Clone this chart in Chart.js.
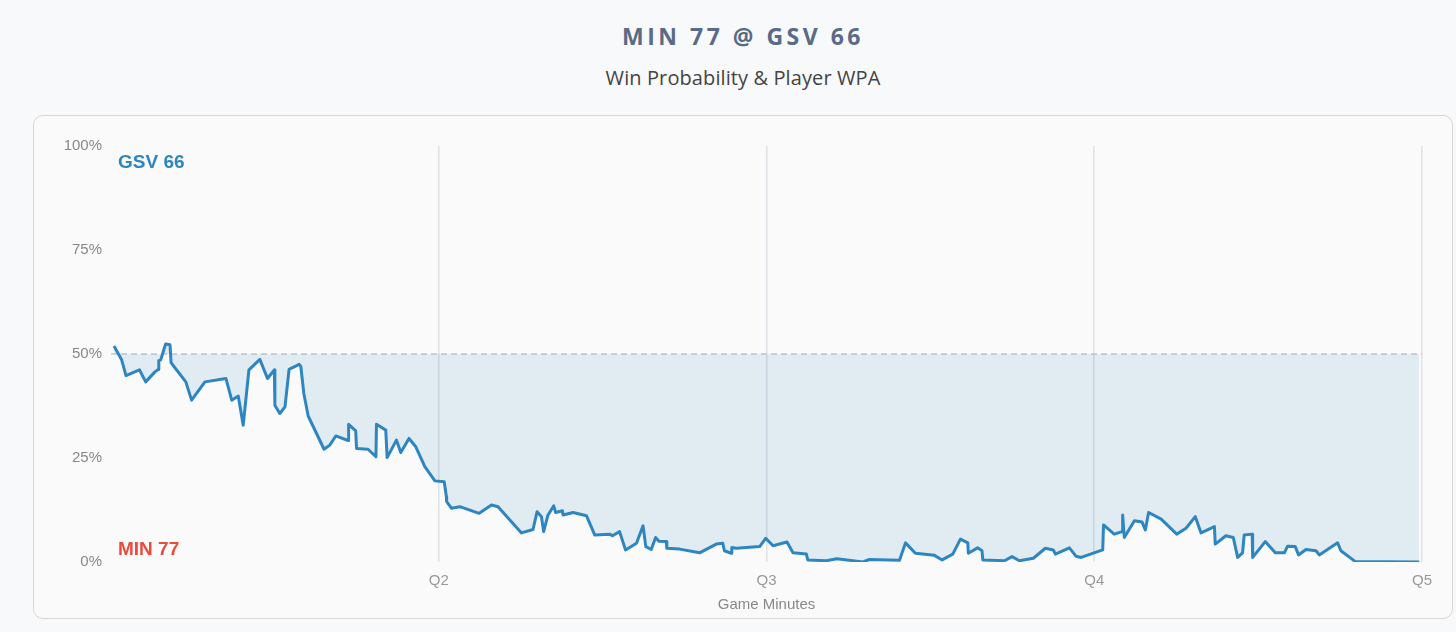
<!DOCTYPE html>
<html>
<head>
<meta charset="utf-8">
<script src="https://cdn.jsdelivr.net/npm/chart.js@4"></script>
<style>
  html, body { margin: 0; padding: 0; background: #f8f9fa; }
  body { width: 1456px; height: 632px; position: relative; overflow: hidden; }
  #title { position: absolute; left: 0; width: 1486px; top: 19px; text-align: center;
    font-family: "Open Sans", sans-serif; font-weight: 700; font-size: 23px; letter-spacing: 3.5px; color: #596b86; line-height: 34px; }
  #subtitle { position: absolute; left: 0; width: 1486px; top: 64px; text-align: center;
    font-family: "Open Sans", sans-serif; font-size: 20px; letter-spacing: 0.1px; color: #444; line-height: 28px; }
  #card { position: absolute; left: 33px; top: 115px; width: 1420px; height: 504px; box-sizing: border-box;
    border: 1px solid #d6d6d6; border-radius: 10px; background: #fafafa; overflow: hidden; }
  #card canvas { display: block; }
</style>
</head>
<body>
<div id="title">MIN 77 @ GSV 66</div>
<div id="subtitle">Win Probability &amp; Player WPA</div>
<div id="card"><canvas id="c" width="1418" height="502"></canvas></div>
<script>
// Game minute of each play
const minutes = [
  0.11, 0.39, 0.55, 1.04, 1.27, 1.61, 1.73, 1.75, 1.82, 2.00, 2.16, 2.20, 2.74, 2.95, 3.44, 4.21,
  4.42, 4.66, 4.84, 5.05, 5.45, 5.73, 5.98, 6.00, 6.18, 6.37, 6.52, 6.89, 6.95, 7.06, 7.22, 7.80,
  8.01, 8.23, 8.68, 8.70, 8.96, 8.99, 9.41, 9.70, 9.72, 10.06, 10.11, 10.45, 10.61, 10.91, 11.16,
  11.49, 11.86, 12.20, 12.28, 12.29, 12.47, 12.77, 13.48, 13.93, 14.17, 15.03, 15.45, 15.60, 15.76,
  15.84, 16.00, 16.21, 16.28, 16.53, 16.55, 16.92, 17.41, 17.71, 18.26, 18.36, 18.62, 18.84, 19.24,
  19.48, 19.58, 19.78, 19.94, 20.06, 20.33, 20.35, 20.82, 21.55, 22.16, 22.40, 22.46, 22.71, 22.73,
  22.89, 23.75, 23.97, 24.24, 24.75, 24.97, 25.46, 25.51, 26.19, 26.58, 27.53, 27.77, 28.87, 29.09,
  29.45, 30.15, 30.43, 30.82, 31.10, 31.37, 31.39, 31.73, 31.89, 31.92, 32.71, 32.99, 33.26, 33.77,
  34.21, 34.50, 34.58, 35.09, 35.33, 35.52, 36.31, 36.34, 36.73, 37.02, 37.04, 37.10, 37.47, 37.75,
  37.87, 37.99, 38.45, 39.02, 39.36, 39.70, 39.91, 40.40, 40.43, 40.82, 41.09, 41.25, 41.43, 41.49,
  41.78, 41.80, 42.26, 42.63, 42.96, 43.08, 43.36, 43.48, 43.75, 44.12, 44.24, 44.91, 45.03, 45.56,
  47.90
];
// GSV win probability (%)
const winProb = [
  51.9, 48.6, 44.8, 46.2, 43.3, 45.7, 46.3, 48.4, 48.6, 52.4, 52.2, 47.9, 43.3, 38.9, 43.3, 44.1,
  38.9, 39.9, 32.9, 46.2, 48.7, 44.1, 46.2, 37.7, 35.7, 37.3, 46.3, 47.5, 47.0, 40.5, 35.1, 27.1,
  28.1, 30.3, 29.2, 33.1, 31.5, 27.3, 27.1, 25.3, 33.1, 31.7, 25.1, 29.3, 26.3, 29.7, 27.7,
  22.9, 19.5, 19.3, 15.7, 14.5, 12.9, 13.3, 11.7, 13.7, 13.3, 7.0, 7.8, 12.1, 10.9,
  7.3, 11.3, 13.5, 11.9, 12.3, 11.3, 11.9, 11.1, 6.5, 6.7, 6.3, 7.3, 2.9, 4.5,
  8.7, 3.7, 3.0, 5.9, 5.0, 4.9, 3.3, 3.1, 2.2, 4.3, 4.5, 2.7, 2.1, 3.5,
  3.3, 3.7, 5.7, 3.9, 4.8, 2.2, 1.9, 0.5, 0.3, 0.8, 0.0, 0.6, 0.4, 4.6,
  2.1, 1.6, 0.5, 1.9, 5.5, 4.6, 2.1, 3.4, 2.7, 0.5, 0.3, 1.3, 0.3, 0.9,
  3.3, 2.9, 1.9, 3.4, 1.4, 1.1, 2.9, 8.9, 6.7, 7.3, 11.3, 5.9, 9.9, 9.6,
  7.7, 11.9, 10.3, 6.7, 8.1, 10.9, 7.0, 8.5, 4.3, 6.3, 5.9, 1.1, 2.2, 6.5,
  6.7, 1.1, 4.9, 2.2, 2.2, 3.8, 3.7, 1.7, 3.0, 2.7, 1.7, 4.6, 2.7, 0.1,
  0.0
];
const quarterTicks = [12, 24, 36, 48];
const quarterLabels = ['Q2', 'Q3', 'Q4', 'Q5'];
const yTicks = [0, 25, 50, 75, 100];
const evenLine = 50;
const homeLabel = 'GSV 66';
const awayLabel = 'MIN 77';
const homeLabelValue = 96;
const awayLabelValue = 3;

const points = minutes.map((m, i) => ({ x: m, y: winProb[i] }));
const axisFont = '"Liberation Sans", Arial, sans-serif';

const teamLabels = {
  id: 'teamLabels',
  afterDatasetsDraw(chart) {
    const { ctx, chartArea, scales } = chart;
    ctx.save();
    ctx.font = 'bold 19px ' + axisFont;
    ctx.textBaseline = 'middle';
    ctx.textAlign = 'left';
    ctx.fillStyle = '#2e86c1';
    ctx.fillText(homeLabel, chartArea.left + 7, scales.y.getPixelForValue(homeLabelValue));
    ctx.fillStyle = '#e74c3c';
    ctx.fillText(awayLabel, chartArea.left + 7, scales.y.getPixelForValue(awayLabelValue));
    ctx.restore();
  }
};

new Chart(document.getElementById('c'), {
  type: 'line',
  data: {
    datasets: [
      {
        data: points,
        borderColor: '#2e86c1',
        borderWidth: 3,
        borderJoinStyle: 'round',
        pointRadius: 0,
        tension: 0,
        fill: { value: evenLine },
        backgroundColor: 'rgba(46,134,193,0.12)',
        order: 1
      },
      {
        data: [{ x: 0, y: evenLine }, { x: 48, y: evenLine }],
        borderColor: '#c3c7cc',
        borderWidth: 1.3,
        borderDash: [6, 4],
        pointRadius: 0,
        fill: false,
        order: 2
      }
    ]
  },
  options: {
    responsive: false,
    animation: false,
    layout: { padding: { top: 30, right: 30, left: 0, bottom: 0 } },
    plugins: { legend: { display: false }, tooltip: { enabled: false } },
    scales: {
      x: {
        type: 'linear',
        min: 0,
        max: 48,
        afterBuildTicks(scale) { scale.ticks = quarterTicks.map(v => ({ value: v })); },
        afterFit(scale) { scale.height = 56; },
        grid: { color: '#dfe2e6', lineWidth: 1.6, drawTicks: false },
        border: { display: false },
        ticks: {
          padding: 10,
          color: '#999',
          font: { family: axisFont, size: 15 },
          callback(v) { const i = quarterTicks.indexOf(v); return i >= 0 ? quarterLabels[i] : ''; }
        },
        title: {
          display: true,
          text: 'Game Minutes',
          color: '#888',
          font: { family: axisFont, size: 15 },
          padding: { top: 0, bottom: 4 }
        }
      },
      y: {
        min: 0,
        max: 100,
        afterBuildTicks(scale) { scale.ticks = yTicks.map(v => ({ value: v })); },
        afterFit(scale) { scale.width = 77; },
        grid: { display: false, drawTicks: false },
        border: { display: false },
        ticks: {
          padding: 9,
          color: '#888',
          font: { family: axisFont, size: 15 },
          callback(v) { return v + '%'; }
        }
      }
    }
  },
  plugins: [teamLabels]
});
</script>
</body>
</html>
